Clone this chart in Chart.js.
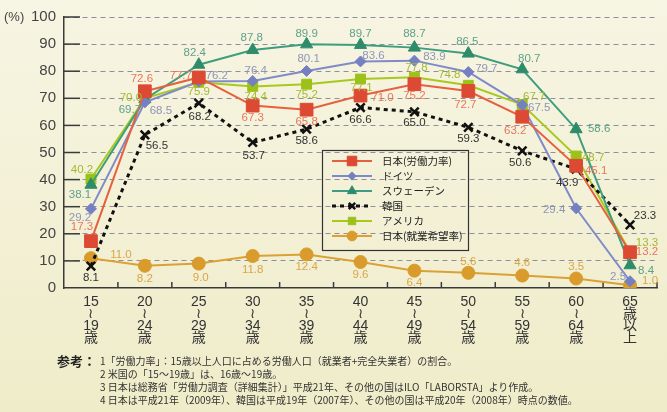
<!DOCTYPE html>
<html lang="ja">
<head>
<meta charset="utf-8">
<script src="https://cdn.jsdelivr.net/npm/chart.js@4.4.0/dist/chart.umd.min.js"></script>
<style>
  html, body { margin: 0; padding: 0; }
  body {
    width: 667px; height: 412px; overflow: hidden; position: relative;
    background: linear-gradient(#f7f5e3, #efecc9);
    font-family: "Noto Sans CJK JP", sans-serif;
  }
  #chart { position: absolute; left: 0; top: 0; }
  .ref { position: absolute; left: 57px; top: 354px; font-size: 13px; font-weight: bold; color: #222; line-height: 1; }
  .note { position: absolute; left: 100px; font-size: 10px; color: #333; white-space: nowrap; line-height: 1; }
</style>
</head>
<body>
<canvas id="chart" width="667" height="412"></canvas>
<div class="ref">参考：</div>
<div class="note" style="top:356px">1「労働力率」：15歳以上人口に占める労働人口（就業者+完全失業者）の割合。</div>
<div class="note" style="top:369px">2 米国の「15〜19歳」は、16歳〜19歳。</div>
<div class="note" style="top:382px">3 日本は総務省「労働力調査（詳細集計）」平成21年、その他の国はILO「LABORSTA」より作成。</div>
<div class="note" style="top:395px">4 日本は平成21年（2009年）、韓国は平成19年（2007年）、その他の国は平成20年（2008年）時点の数値。</div>
<script>
// age groups (multi-line tick labels)
var ageLabels = [
  ["15", "≀", "19", "歳"], ["20", "≀", "24", "歳"], ["25", "≀", "29", "歳"],
  ["30", "≀", "34", "歳"], ["35", "≀", "39", "歳"], ["40", "≀", "44", "歳"],
  ["45", "≀", "49", "歳"], ["50", "≀", "54", "歳"], ["55", "≀", "59", "歳"],
  ["60", "≀", "64", "歳"], ["65", "歳", "以", "上"]
];
var seriesNames = ["日本(労働力率)", "ドイツ", "スウェーデン", "韓国", "アメリカ", "日本(就業希望率)"];

var japanLabour = [17.3, 72.6, 77.7, 67.3, 65.8, 71.0, 75.2, 72.7, 63.2, 45.1, 13.2];
var germany     = [29.2, 68.5, 76.2, 76.4, 80.1, 83.6, 83.9, 79.7, 67.5, 29.4, 2.5];
var sweden      = [38.1, 69.7, 82.4, 87.8, 89.9, 89.7, 88.7, 86.5, 80.7, 58.6, 8.4];
var korea       = [8.1, 56.5, 68.2, 53.7, 58.6, 66.6, 65.0, 59.3, 50.6, 43.9, 23.3];
var america     = [40.2, 70.0, 75.9, 74.4, 75.2, 77.1, 77.8, 74.8, 67.7, 48.7, 13.3];
var japanHope   = [11.0, 8.2, 9.0, 11.8, 12.4, 9.6, 6.4, 5.6, 4.6, 3.5, 1.0];

// where each value label sits relative to its point (dx, dy)
var labelOffsets = [
  [[-9,-14],[-3,-12],[-18,-2],[0,12],[0,12],[22,2],[0,12],[-3,14],[-7,14],[20,5],[17,0]],
  [[-11,9],[16,8],[18,-6],[3,-10],[2,-12],[13,-6],[20,-4],[18,-3],[17,3],[-22,2],[-12,-4]],
  [[-11,10],[-15,11],[-4,-12],[-1,-12],[0,-11],[0,-11],[0,-14],[-1,-12],[7,-10],[23,0],[16,6]],
  [[0,12],[12,11],[1,14],[1,13],[0,12],[0,12],[0,11],[0,12],[-2,12],[-9,14],[15,-9]],
  [[-9,-9],[-14,0],[0,10],[3,10],[0,11],[1,9],[2,-9],[-19,-10],[12,-8],[17,2],[17,-9]],
  [[30,-3],[0,13],[2,14],[0,14],[0,12],[0,13],[0,12],[0,-11],[0,-13],[0,-12],[20,-4]]
];
var labelColors = ["#e8765e", "#8d96b8", "#5fa08a", "#333333", "#a2ba34", "#d9a64a"];

var decor = {
  id: "decor",
  beforeDatasetsDraw: function (chart) {
    var ctx = chart.ctx, a = chart.chartArea;
    var ys = chart.scales.y, xs = chart.scales.x;
    ctx.save();
    ctx.strokeStyle = "#3a3a3a";
    ctx.lineWidth = 1.5;
    ys.ticks.forEach(function (t) {
      if (t.value === 0) return;
      var y = ys.getPixelForValue(t.value);
      ctx.beginPath(); ctx.moveTo(a.left, y); ctx.lineTo(a.left + 16, y); ctx.stroke();
    });
    for (var i = 0; i < ageLabels.length; i++) {
      var xb = i < ageLabels.length - 1
        ? (xs.getPixelForValue(i) + xs.getPixelForValue(i + 1)) / 2
        : a.right;
      ctx.beginPath(); ctx.moveTo(xb, a.bottom); ctx.lineTo(xb, a.bottom - 6); ctx.stroke();
    }
    ctx.restore();
  },
  afterDatasetsDraw: function (chart) {
    var ctx = chart.ctx;
    ctx.save();
    ctx.font = '11.5px "Liberation Sans", Arial, sans-serif';
    ctx.textAlign = "center";
    ctx.textBaseline = "middle";
    chart.data.datasets.forEach(function (ds, di) {
      var meta = chart.getDatasetMeta(di);
      ctx.fillStyle = labelColors[di];
      meta.data.forEach(function (pt, i) {
        var off = labelOffsets[di][i];
        ctx.fillText(ds.data[i].toFixed(1), pt.x + off[0], pt.y + off[1]);
      });
    });
    ctx.restore();
  },
  afterDraw: function (chart) {
    var ctx = chart.ctx;
    ctx.save();
    // (%) unit
    ctx.fillStyle = "#444";
    ctx.font = '13px "Liberation Sans", sans-serif';
    ctx.textBaseline = "middle";
    ctx.fillText("(%)", 4, chart.scales.y.getPixelForValue(100));
    // legend
    var bx = 322, by = 150, bw = 146, bh = 100;
    ctx.strokeStyle = "#333";
    ctx.lineWidth = 1.2;
    ctx.strokeRect(bx + 0.5, by + 0.5, bw, bh);
    ctx.font = '10.5px "Noto Sans CJK JP", sans-serif';
    chart.data.datasets.forEach(function (ds, di) {
      var y = by + 11 + di * 15;
      ctx.save();
      ctx.strokeStyle = ds.borderColor;
      ctx.lineWidth = ds.borderWidth;
      ctx.setLineDash(ds.borderDash || []);
      ctx.beginPath(); ctx.moveTo(bx + 10, y); ctx.lineTo(bx + 50, y); ctx.stroke();
      ctx.restore();
      ctx.save();
      ctx.fillStyle = ds.pointBackgroundColor;
      ctx.strokeStyle = ds.pointBorderColor;
      ctx.lineWidth = ds.pointBorderWidth;
      ctx.setLineDash([]);
      if (Chart.helpers && Chart.helpers.drawPoint) {
        Chart.helpers.drawPoint(ctx, {
          pointStyle: ds.pointStyle, rotation: 0,
          radius: ds.pointRadius * 0.75, borderWidth: ds.pointBorderWidth
        }, bx + 30, y);
      }
      ctx.restore();
      ctx.fillStyle = "#222";
      ctx.textBaseline = "middle";
      ctx.fillText(seriesNames[di], bx + 60, y);
    });
    ctx.restore();
  }
};

function line(label, data, color, pointColor, style, radius, extra) {
  var ds = {
    label: label, data: data,
    borderColor: color, borderWidth: 2,
    pointStyle: style, pointRadius: radius,
    pointBackgroundColor: pointColor, pointBorderColor: pointColor,
    pointBorderWidth: 1, tension: 0
  };
  for (var k in extra) ds[k] = extra[k];
  return ds;
}

var chart = new Chart(document.getElementById("chart").getContext("2d"), {
  type: "line",
  data: {
    labels: ageLabels,
    datasets: [
      line(seriesNames[0], japanLabour, "#e5603f", "#dc4a33", "rect", 9),
      line(seriesNames[1], germany, "#7f8bc9", "#7480c2", "rectRot", 5.5),
      line(seriesNames[2], sweden, "#3d9d7c", "#2e8c6b", "triangle", 7),
      line(seriesNames[3], korea, "#111111", "#111111", "crossRot", 6,
        { borderWidth: 3, borderDash: [4, 4], pointBorderWidth: 2.5 }),
      line(seriesNames[4], america, "#a8c81e", "#9cc21a", "rect", 7),
      line(seriesNames[5], japanHope, "#dca134", "#d99b2c", "circle", 6.5)
    ]
  },
  options: {
    responsive: false,
    animation: false,
    layout: { padding: { top: 17, right: 5, bottom: 60, left: 0 } },
    plugins: { legend: { display: false }, tooltip: { enabled: false } },
    scales: {
      x: {
        offset: true,
        grid: { display: false, drawTicks: false },
        border: { display: true, color: "#3a3a3a", width: 1.5 },
        ticks: {
          padding: 8, color: "#333", maxRotation: 0, autoSkip: false,
          font: { family: '"Liberation Sans", "Noto Sans CJK JP", sans-serif', size: 14, lineHeight: "12px" }
        },
        afterFit: function (s) { s.height = 64; }
      },
      y: {
        min: 0, max: 100,
        ticks: {
          stepSize: 10, padding: 8, color: "#444",
          font: { family: '"Liberation Sans", sans-serif', size: 15 }
        },
        grid: {
          drawTicks: false, lineWidth: 1,
          color: function (c) { return c.tick && c.tick.value === 0 ? "rgba(0,0,0,0)" : "#8e8e9c"; }
        },
        border: { display: true, color: "#3a3a3a", width: 1.5, dash: [5, 4] },
        afterFit: function (s) { s.width = 64; }
      }
    }
  },
  plugins: [decor]
});
</script>
</body>
</html>
